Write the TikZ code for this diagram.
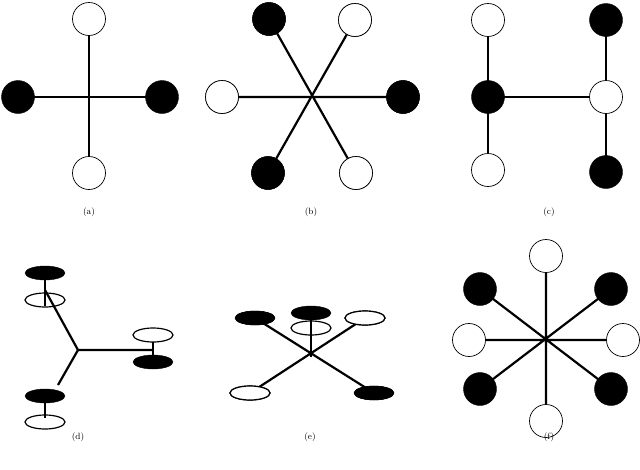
\documentclass[tikz,border=0pt]{standalone}
\usetikzlibrary{shapes.geometric}
\begin{document}
\begin{tikzpicture}[x=1pt,y=-1pt,
  bar/.style={line width=2.2pt},
  thin/.style={line width=1.2pt},
  wb/.style={circle,draw,line width=0.7pt,fill=white,minimum size=33pt,inner sep=0pt},
  bb/.style={circle,draw,fill=black,minimum size=33pt,inner sep=0pt},
  we/.style={ellipse,draw,line width=1.2pt,fill=white,minimum width=40pt,minimum height=14pt,inner sep=0pt},
  be/.style={ellipse,draw,fill=black,minimum width=40pt,minimum height=14pt,inner sep=0pt},
  lab/.style={font=\small}]
\useasboundingbox (0,0) rectangle (640,469);
% (a)
\draw[bar] (89,19) -- (89,173);
\draw[bar] (18,97) -- (162,97);
\node[wb] (a1) at (89,19) {};
\node[wb] (a2) at (89,173) {};
\node[bb] (a3) at (18,97) {};
\node[bb] (a4) at (162,97) {};
\node[lab] (la) at (89,212) {(a)};
% (b)
\node[bb] (b1) at (269,19) {};
\node[wb] (b2) at (355,20) {};
\node[wb] (b3) at (222,97) {};
\node[bb] (b4) at (403,97) {};
\node[bb] (b5) at (268,173) {};
\node[wb] (b6) at (356,173) {};
\draw[bar] (b1.center) -- (b6.center) (b2.center) -- (b5.center) (b3.center) -- (b4.center);
\foreach \n in {b1,b4,b5}{\node[bb] at (\n) {};}
\foreach \n in {b2,b3,b6}{\node[wb] at (\n) {};}
\node[lab] (lb) at (311,212) {(b)};
% (c)
\coordinate (c0) at (488,97);
\coordinate (c00) at (606,97);
\draw[bar] (488,20) -- (488,170) (606,20) -- (606,172) (c0) -- (c00);
\node[wb] (c1) at (488,20) {};
\node[wb] (c2) at (488,170) {};
\node[bb] (c3) at (488,97) {};
\node[bb] (c4) at (606,20) {};
\node[wb] (c5) at (606,97) {};
\node[bb] (c6) at (606,172) {};
\node[lab] (lc) at (549,212) {(c)};
% (d)
\coordinate (dc) at (78,350);
\coordinate (d1) at (45,290);
\coordinate (d2) at (153,350);
\coordinate (d3) at (58,385);
\draw[bar] (dc) -- (d2) (dc) -- (d3);
\node[be] (de1) at (45,273) {};
\node[we] (de2) at (45,300) {};
\draw[thin] (45,280) -- (45,306);
\draw[bar] (dc) -- (d1);
\node[we] (de3) at (153,335) {};
\node[be] (de4) at (153,362) {};
\draw[thin] (153,342) -- (153,356);
\node[be] (de5) at (45,396) {};
\node[we] (de6) at (45,422) {};
\draw[thin] (45,400) -- (45,418);
\node[lab] (ld) at (78,437) {(d)};
% (e)
\coordinate (ec) at (311,357);
\node[be] (e1) at (255,318) {};
\node[we] (e3) at (365,318) {};
\node[we] (e4) at (250,393) {};
\node[be] (e5) at (374,393) {};
\draw[bar] (e1.center) -- (e5.center) (e3.center) -- (e4.center);
\node[be] at (e1) {};
\node[we] at (e3) {};
\node[we] at (e4) {};
\node[be] at (e5) {};
\node[be] (e2) at (311,313) {};
\node[we] (e6) at (311,328) {};
\draw[thin] (ec) -- (311,318);
\node[lab] (le) at (310,437) {(e)};
% (f)
\draw[bar] (546,256) -- (546,421) (469,340) -- (623,340) (480,289) -- (611,389) (611,289) -- (480,389);
\node[wb] (f1) at (546,256) {};
\node[wb] (f2) at (546,421) {};
\node[wb] (f3) at (469,340) {};
\node[wb] (f4) at (623,340) {};
\node[bb] (f5) at (480,289) {};
\node[bb] (f6) at (611,289) {};
\node[bb] (f7) at (480,389) {};
\node[bb] (f8) at (611,389) {};
\node[lab] (lf) at (549,437) {(f)};
\end{tikzpicture}
\end{document}
